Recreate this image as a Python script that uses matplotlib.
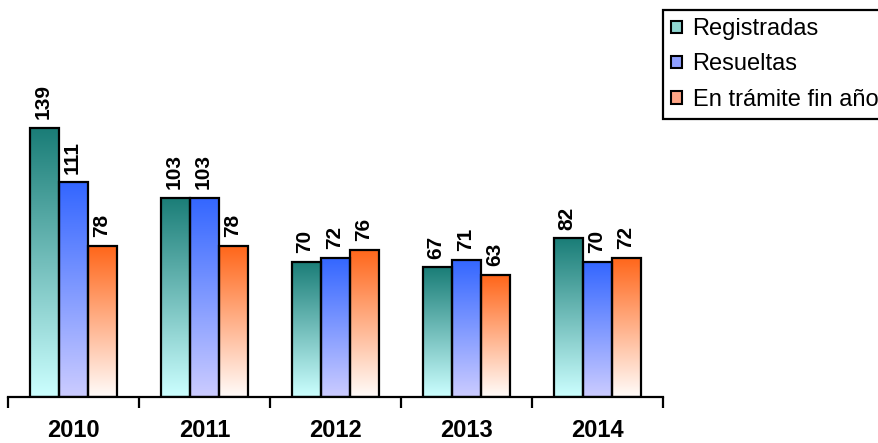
import numpy as np
import matplotlib
matplotlib.use("Agg")
import matplotlib.pyplot as plt
from matplotlib.colors import LinearSegmentedColormap
from matplotlib.patches import Patch

plt.rcParams['font.family'] = ['Liberation Sans', 'DejaVu Sans']

years = ["2010", "2011", "2012", "2013", "2014"]
series = ["Registradas", "Resueltas", "En trámite fin año"]
registradas = [139, 103, 70, 67, 82]
resueltas = [111, 103, 72, 71, 70]
en_tramite = [78, 78, 76, 63, 72]

# gradient: (bottom colour, top colour)
grads = [("#ccffff", "#1a7d77"), ("#ccccff", "#3366ff"), ("#fffcfa", "#ff661a")]
legend_cols = ["#8fd6d0", "#8f9fff", "#ffa585"]

fig = plt.figure(figsize=(8.79, 4.43), dpi=100)
ax = fig.add_axes([8/879, 1-397/443, 655/879, 309.6/443])

x = np.arange(len(years))
w = 0.222
grad = np.linspace(0, 1, 256).reshape(-1, 1)
for i, vals in enumerate([registradas, resueltas, en_tramite]):
    cmap = LinearSegmentedColormap.from_list("g%d" % i, grads[i])
    bars = ax.bar(x + (i - 1) * w, vals, w, facecolor="none",
                  edgecolor="black", linewidth=1.6, zorder=3)
    for b, v in zip(bars, vals):
        x0 = b.get_x()
        ax.imshow(grad, extent=[x0, x0 + b.get_width(), 0, b.get_height()],
                  origin="lower", cmap=cmap, aspect="auto", zorder=2)
        ax.text(x0 + b.get_width() / 2 - 0.01, v + 4.5, str(v), rotation=90,
                ha="center", va="bottom", fontsize=15, fontweight="bold")

ax.set_xlim(-0.5, 4.5)
ax.set_ylim(0, 160)
ax.set_aspect("auto")
for s in ["left", "right", "top"]:
    ax.spines[s].set_visible(False)
ax.spines["bottom"].set_linewidth(1.6)
ax.set_yticks([])
ax.set_xticks(x)
ax.set_xticklabels(years, fontsize=17, fontweight="bold")
ax.set_xticks(np.arange(-0.5, 5, 1), minor=True)
ax.tick_params(axis="x", which="major", length=0, pad=16)
ax.tick_params(axis="x", which="minor", length=8, width=1.6, direction="out")

handles = [Patch(facecolor=c, edgecolor="black", linewidth=1.5) for c in legend_cols]
leg = fig.legend(handles, series, loc="upper left",
                 bbox_to_anchor=(663/879, 1 - 10/443), fontsize=17,
                 fancybox=False, framealpha=1, edgecolor="black",
                 handlelength=0.45, handleheight=0.45, handletextpad=0.45,
                 borderpad=0.35, labelspacing=0.56, borderaxespad=0)
leg.get_frame().set_linewidth(1.6)

fig.savefig("out.png", dpi=100)
